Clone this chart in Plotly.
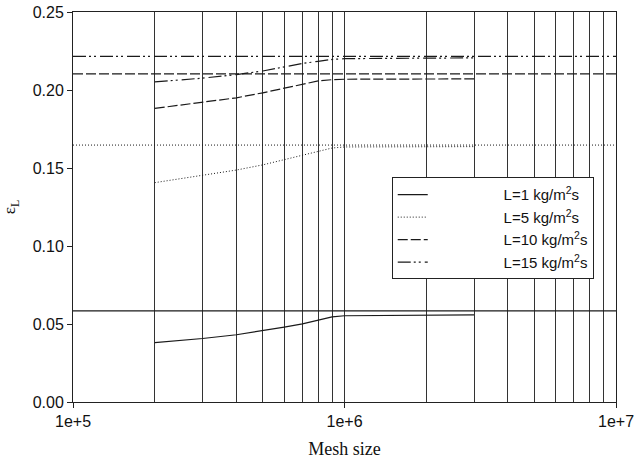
import plotly.graph_objects as go

# Data
mesh = [2e5, 3e5, 4e5, 5e5, 6e5, 7e5, 8e5, 9e5, 1e6, 1.5e6, 2e6, 3e6]
eps_L1 = [0.0381, 0.0407, 0.0431, 0.0456, 0.0480, 0.0501, 0.0525, 0.0546, 0.0553, 0.0556, 0.0558, 0.0559]
eps_L5 = [0.1406, 0.1453, 0.1487, 0.1520, 0.1555, 0.1583, 0.1610, 0.1628, 0.1635, 0.1636, 0.1637, 0.1637]
eps_L10 = [0.1882, 0.1920, 0.1950, 0.1982, 0.2012, 0.2037, 0.2058, 0.2066, 0.2069, 0.2070, 0.2071, 0.2071]
eps_L15 = [0.2052, 0.2076, 0.2099, 0.2122, 0.2148, 0.2170, 0.2184, 0.2196, 0.2201, 0.2204, 0.2205, 0.2206]
asym = [0.0584, 0.1647, 0.2103, 0.2216]
x_range_ends = [1e5, 1e7]
names = ["L=1 kg/m<sup>2</sup>s", "L=5 kg/m<sup>2</sup>s", "L=10 kg/m<sup>2</sup>s", "L=15 kg/m<sup>2</sup>s"]
x_tickvals = [1e5, 1e6, 1e7]
x_ticktext = ["1e+5", "1e+6", "1e+7"]
minor_vals = [2e5, 3e5, 4e5, 5e5, 6e5, 7e5, 8e5, 9e5, 2e6, 3e6, 4e6, 5e6, 6e6, 7e6, 8e6, 9e6]
y_tickvals = [0.0, 0.05, 0.10, 0.15, 0.20, 0.25]

series = [eps_L1, eps_L5, eps_L10, eps_L15]
styles = [
    dict(dash="solid", width=1.2),
    dict(dash="1px,2px", width=1),
    dict(dash="10px,3px", width=1.2),
    dict(dash="13px,3px,2px,3px,2px,4px", width=1.2),
]
col = "#1a1a1a"

fig = go.Figure()
pad = "\u00a0" * 17
for ys, nm, st, a in zip(series, names, styles, asym):
    fig.add_trace(go.Scatter(x=mesh, y=ys, mode="lines", name=pad + nm,
                             line=dict(color=col, **st)))
    fig.add_trace(go.Scatter(x=x_range_ends, y=[a, a], mode="lines", showlegend=False,
                             line=dict(color=col, **st)))

fig.update_layout(
    width=636, height=464,
    margin=dict(l=73, r=20, t=12, b=62),
    plot_bgcolor="white", paper_bgcolor="white",
    font=dict(family="Liberation Sans, Arial", size=16, color="#111"),
    showlegend=True,
    legend=dict(x=0.587, y=0.576, xanchor="left", yanchor="top",
                bgcolor="white", bordercolor="#222", borderwidth=1,
                font=dict(size=15), tracegroupgap=0),
    xaxis=dict(type="log", range=[5, 7], tickvals=x_tickvals, ticktext=x_ticktext,
               automargin=False,
               showgrid=True, gridcolor="#333", gridwidth=1,
               ticks="outside", ticklen=5, tickcolor="#222",
               showline=True, linecolor="#222", linewidth=1, mirror=True,
               zeroline=False,
               minor=dict(tickvals=minor_vals, showgrid=True, gridcolor="#333", gridwidth=1, ticks=""),
               title=dict(text="Mesh size", font=dict(family="Liberation Serif, Times New Roman", size=18), standoff=13)),
    yaxis=dict(range=[0, 0.25], tickvals=y_tickvals, tickformat=".2f",
               automargin=False,
               showgrid=False, zeroline=False,
               ticks="outside", ticklen=5, tickcolor="#222",
               showline=True, linecolor="#222", linewidth=1, mirror=True,
               title=dict(text="ε<sub>L</sub>", font=dict(family="Liberation Serif, Times New Roman", size=17), standoff=20)),
)

fig.write_html("out.html", config={"displayModeBar": False},
               post_script="document.body.style.margin='0';")
